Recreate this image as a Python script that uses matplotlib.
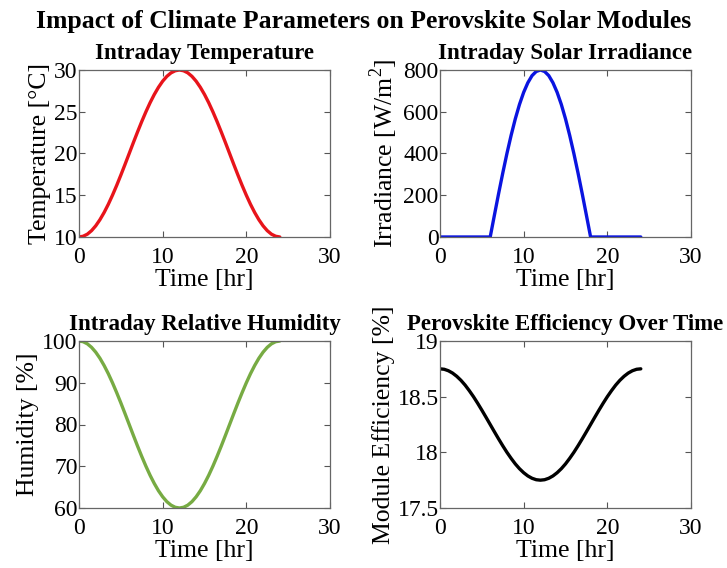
import matplotlib
matplotlib.use("Agg")
import matplotlib.pyplot as plt

plt.rcParams['font.family'] = ['Liberation Serif', 'DejaVu Serif']
plt.rcParams['mathtext.fontset'] = 'custom'
plt.rcParams['mathtext.rm'] = 'Liberation Serif'

# half-hourly readings, midnight to noon; afternoon mirrors the morning
hours = [i * 0.5 for i in range(49)]
temp_am = [10, 10.09, 10.34, 10.76, 11.34, 12.07, 12.93, 13.91, 15, 16.17, 17.41, 18.69, 20,
           21.31, 22.59, 23.83, 25, 26.09, 27.07, 27.93, 28.66, 29.24, 29.66, 29.91, 30]
irr_am = [0, 0, 0, 0, 0, 0, 0, 0, 0, 0, 0, 0, 0,
          104, 207, 306, 400, 487, 566, 635, 693, 739, 773, 793, 800]
hum_am = [100, 99.83, 99.32, 98.48, 97.32, 95.87, 94.14, 92.18, 90, 87.65, 85.18, 82.61, 80,
          77.39, 74.82, 72.35, 70, 67.82, 65.86, 64.13, 62.68, 61.52, 60.68, 60.17, 60]
eff_am = [18.75, 18.746, 18.733, 18.712, 18.683, 18.647, 18.604, 18.554, 18.5, 18.441, 18.379, 18.315, 18.25,
          18.185, 18.121, 18.059, 18.0, 17.946, 17.896, 17.853, 17.817, 17.788, 17.767, 17.754, 17.75]

temperature = temp_am + temp_am[-2::-1]
irradiance = irr_am + irr_am[-2::-1]
humidity = hum_am + hum_am[-2::-1]
efficiency = eff_am + eff_am[-2::-1]

panels = [
    (temperature, '#e8141b', 'Intraday Temperature', 'Temperature [°C]', (10, 30), [10, 15, 20, 25, 30], None),
    (irradiance, '#0a14e0', 'Intraday Solar Irradiance', r'Irradiance [W/m$^2$]', (0, 800), [0, 200, 400, 600, 800], None),
    (humidity, '#77ab43', 'Intraday Relative Humidity', 'Humidity [%]', (60, 100), [60, 70, 80, 90, 100], None),
    (efficiency, '#000000', 'Perovskite Efficiency Over Time', 'Module Efficiency [%]', (17.5, 19),
     [17.5, 18, 18.5, 19], ['17.5', '18', '18.5', '19']),
]

fig = plt.figure(figsize=(7.27, 5.68), dpi=100)
W, H = 727, 568
boxes = [(79, 70), (440, 70), (79, 341), (440, 341)]
aw, ah = 251, 167

for (vals, color, title, ylabel, ylim, yticks, yticklabels), (x0, y0) in zip(panels, boxes):
    ax = fig.add_axes([x0 / W, 1 - (y0 + ah) / H, aw / W, ah / H])
    ax.plot(hours, vals, color=color, lw=2.4, solid_capstyle='round')
    ax.set_xlim(0, 30)
    ax.set_ylim(*ylim)
    ax.set_xticks([0, 10, 20, 30])
    ax.set_yticks(yticks)
    if yticklabels:
        ax.set_yticklabels(yticklabels)
    ax.tick_params(direction='in', top=True, right=True, labelsize=17, length=4,
                   color='#555555', width=0.8)
    ax.tick_params(axis='y', pad=1)
    ax.tick_params(axis='x', pad=7)
    for s in ax.spines.values():
        s.set_color('#666666')
        s.set_linewidth(0.9)
    ax.set_xlabel('Time [hr]', fontsize=18.5, labelpad=1)
    ax.set_ylabel(ylabel, fontsize=18.5, labelpad=2)
    ax.set_title(title, fontsize=16.5, fontweight='bold', pad=8)

fig.suptitle('Impact of Climate Parameters on Perovskite Solar Modules',
             fontsize=18.5, fontweight='bold', x=0.5, y=0.983)

fig.savefig('out.png', dpi=100)
